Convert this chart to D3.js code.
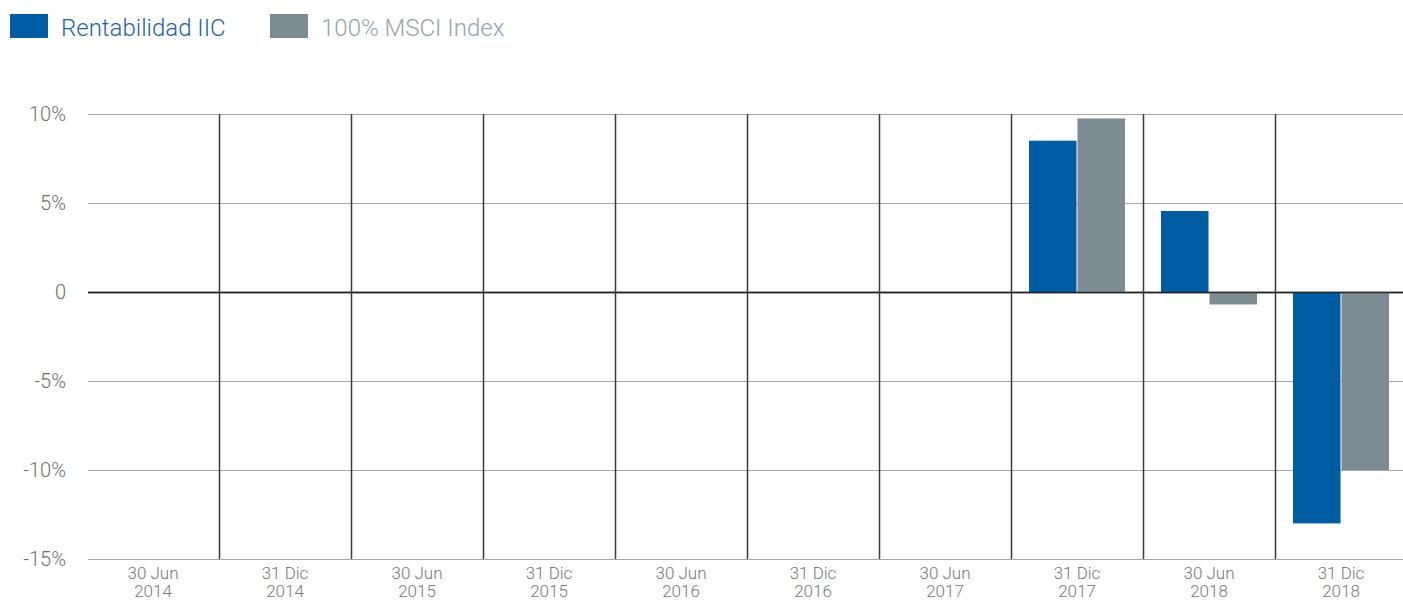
<!DOCTYPE html>
<html>
<head>
<meta charset="utf-8">
<script src="https://cdn.jsdelivr.net/npm/d3@7"></script>
<style>
  html, body { margin: 0; padding: 0; background: #fff; }
  svg { display: block; font-family: Roboto, "Open Sans", sans-serif; font-weight: 300; }
</style>
</head>
<body>
<svg id="chart" width="1403" height="601"></svg>
<script>
const categories = [
  ["30 Jun", "2014"], ["31 Dic", "2014"], ["30 Jun", "2015"], ["31 Dic", "2015"],
  ["30 Jun", "2016"], ["31 Dic", "2016"], ["30 Jun", "2017"], ["31 Dic", "2017"],
  ["30 Jun", "2018"], ["31 Dic", "2018"]
];
const seriesNames = ["Rentabilidad IIC", "100% MSCI Index"];
const rentabilidad = [null, null, null, null, null, null, null, 8.5, 4.55, -13.0];
const msci = [null, null, null, null, null, null, null, 9.75, -0.7, -10.0];
const yTicks = [10, 5, 0, -5, -10, -15];
const yTickLabels = ["10%", "5%", "0", "-5%", "-10%", "-15%"];
const colors = ["#005ca3", "#7d8c93"];
const legendTextColors = ["#1f63a6", "#98a4ab"];

const svg = d3.select("#chart");
const W = 1403, H = 601;

const x = d3.scaleBand()
  .domain(d3.range(categories.length))
  .range([87, 1407])
  .paddingInner(0).paddingOuter(0);

const y = d3.scaleLinear().domain([-15, 10]).range([559, 114]);

const xInner = d3.scaleBand()
  .domain([0, 1])
  .range([18, x.bandwidth() - 18])
  .paddingInner(0.02);

// horizontal gridlines
svg.append("g").selectAll("line").data(yTicks).join("line")
  .attr("x1", 88).attr("x2", W)
  .attr("y1", d => y(d) + 0.5).attr("y2", d => y(d) + 0.5)
  .attr("stroke", d => d === 0 ? "#222" : "#a8a8a8")
  .attr("stroke-width", d => d === 0 ? 1.5 : 1.2);

// y axis labels
svg.append("g").selectAll("text").data(yTicks).join("text")
  .attr("x", 66).attr("y", d => y(d))
  .attr("dy", "0.36em")
  .attr("text-anchor", "end")
  .attr("fill", "#707070")
  .attr("font-size", 20)
  .text((d, i) => yTickLabels[i]);

// bars
const data = categories.map((c, i) => ({ i, vals: [rentabilidad[i], msci[i]] }));
const groups = svg.append("g").selectAll("g").data(data).join("g")
  .attr("transform", d => `translate(${x(d.i)},0)`);
groups.selectAll("rect")
  .data(d => d.vals.map((v, k) => ({ v, k })).filter(e => e.v !== null))
  .join("rect")
  .attr("x", e => xInner(e.k))
  .attr("width", xInner.bandwidth())
  .attr("y", e => y(Math.max(0, e.v)))
  .attr("height", e => Math.abs(y(e.v) - y(0)))
  .attr("fill", e => colors[e.k]);

// zero line on top of bars
svg.append("line")
  .attr("x1", 88).attr("x2", W)
  .attr("y1", y(0) + 0.5).attr("y2", y(0) + 0.5)
  .attr("stroke", "#222").attr("stroke-width", 1.5).attr("opacity", 0.85);

// vertical separators
svg.append("g").selectAll("line").data(d3.range(1, categories.length)).join("line")
  .attr("x1", i => x(i) + 0.5).attr("x2", i => x(i) + 0.5)
  .attr("y1", 114).attr("y2", 559)
  .attr("stroke", "#3a3a3a").attr("stroke-width", 1.5);

// x labels
const cx = i => x(i) + x.bandwidth() / 2;
const xg = svg.append("g").attr("fill", "#7a7a7a").attr("font-size", 17).attr("text-anchor", "middle");
xg.selectAll("text.l1").data(categories).join("text").attr("class", "l1")
  .attr("x", (d, i) => cx(i)).attr("y", 579).text(d => d[0]);
xg.selectAll("text.l2").data(categories).join("text").attr("class", "l2")
  .attr("x", (d, i) => cx(i)).attr("y", 597).text(d => d[1]);

// legend
const legendX = [10, 270];
const lg = svg.append("g").selectAll("g").data(seriesNames).join("g")
  .attr("transform", (d, i) => `translate(${legendX[i]},14)`);
lg.append("rect").attr("width", 38).attr("height", 24).attr("fill", (d, i) => colors[i]);
lg.append("text").attr("x", 51).attr("y", 13).attr("dy", "0.36em")
  .attr("font-size", 24).attr("fill", (d, i) => legendTextColors[i])
  .text(d => d);
</script>
</body>
</html>
